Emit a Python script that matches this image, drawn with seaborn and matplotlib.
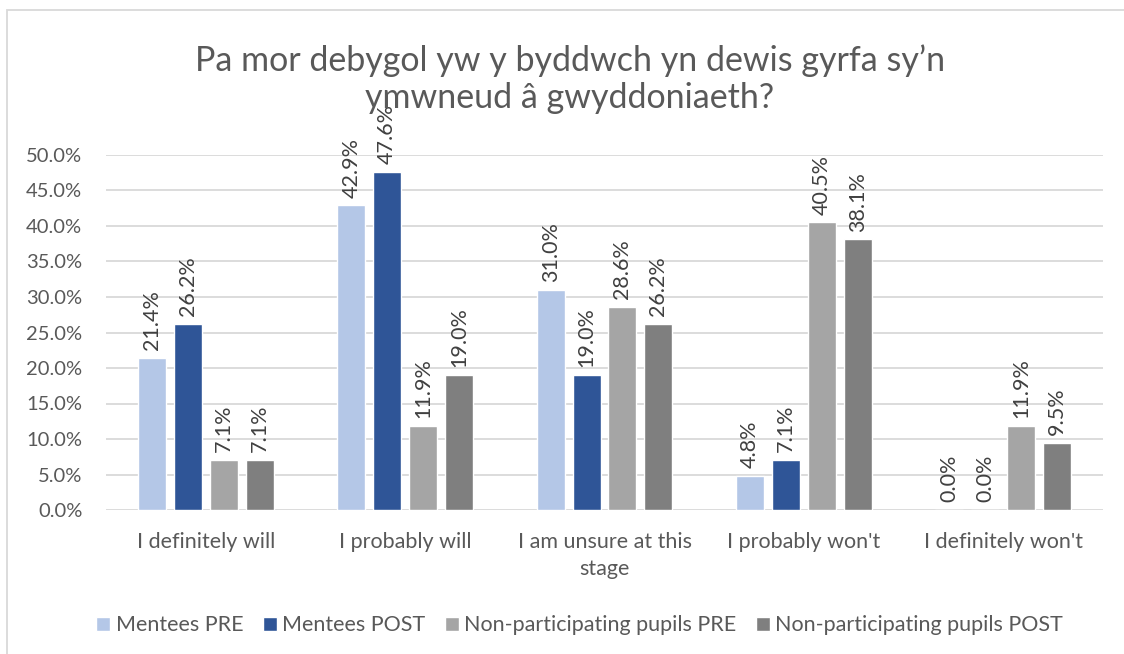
import numpy as np
import pandas as pd
import matplotlib
matplotlib.use("Agg")
import matplotlib.pyplot as plt
import seaborn as sns
from matplotlib.patches import Rectangle

categories = ["I definitely will", "I probably will", "I am unsure at this\nstage",
              "I probably won't", "I definitely won't"]
series = ["Mentees PRE", "Mentees POST", "Non-participating pupils PRE",
          "Non-participating pupils POST"]
mentees_pre = [21.4, 42.9, 31.0, 4.8, 0.0]
mentees_post = [26.2, 47.6, 19.0, 7.1, 0.0]
nonpart_pre = [7.1, 11.9, 28.6, 40.5, 11.9]
nonpart_post = [7.1, 19.0, 26.2, 38.1, 9.5]
colors = ["#B4C7E7", "#2F5597", "#A5A5A5", "#7F7F7F"]
title = "Pa mor debygol yw y byddwch yn dewis gyrfa sy\u2019n\nymwneud \u00e2 gwyddoniaeth?"

rows = []
for s, vals in zip(series, [mentees_pre, mentees_post, nonpart_pre, nonpart_post]):
    for c, v in zip(categories, vals):
        rows.append({"category": c, "series": s, "value": v})
df = pd.DataFrame(rows)

sns.set_style("white")
plt.rcParams["font.family"] = ["Lato", "DejaVu Sans"]
text_col = "#595959"
grid_col = "#D9D9D9"

fig = plt.figure(figsize=(11.24, 6.54), dpi=100)
ax = fig.add_axes([106 / 1124, 1 - 510 / 654, (1103 - 106) / 1124, 355 / 654])

sns.barplot(data=df, x="category", y="value", hue="series", order=categories,
            hue_order=series, palette=colors, width=0.72, gap=0.22,
            saturation=1, ax=ax, legend=True, errorbar=None)

ax.set_ylim(0, 50)
ax.set_xlim(-0.5, 4.5)
ax.set_yticks(np.arange(0, 50.1, 5))
ax.set_yticklabels([f"{t:.1f}%" for t in np.arange(0, 50.1, 5)])
ax.yaxis.grid(True, color=grid_col, linewidth=1.3)
ax.set_axisbelow(True)
for sp in ax.spines.values():
    sp.set_visible(False)
ax.tick_params(axis="y", length=0, labelsize=14.5, colors=text_col, pad=17)
ax.tick_params(axis="x", length=0, labelsize=15.5, colors=text_col, pad=16)
for lbl in ax.get_xticklabels():
    lbl.set_linespacing(1.45)
ax.set_xlabel("")
ax.set_ylabel("")

for cont in ax.containers:
    for bar in cont:
        h = bar.get_height()
        ax.text(bar.get_x() + bar.get_width() / 2, h + 1.1, f"{h:.1f}%",
                rotation=90, ha="center", va="bottom", fontsize=15.5,
                color="#404040", clip_on=False)

leg = ax.legend(loc="center", bbox_to_anchor=(0.475, -0.325), ncol=4, frameon=False,
                fontsize=15.5, handlelength=0.65, handleheight=0.65, handletextpad=0.25,
                columnspacing=0.9)
for t in leg.get_texts():
    t.set_color(text_col)

fig.text(0.507, 1 - 79 / 654, title, ha="center", va="center", fontsize=24.5,
         color=text_col, linespacing=1.2)

fig.patches.append(Rectangle((7 / 1124, -0.1), 1.2, 1 - 10 / 654 + 0.1,
                             transform=fig.transFigure, fill=False,
                             edgecolor=grid_col, linewidth=1.3))

fig.savefig("out.png", dpi=100, facecolor="white")
